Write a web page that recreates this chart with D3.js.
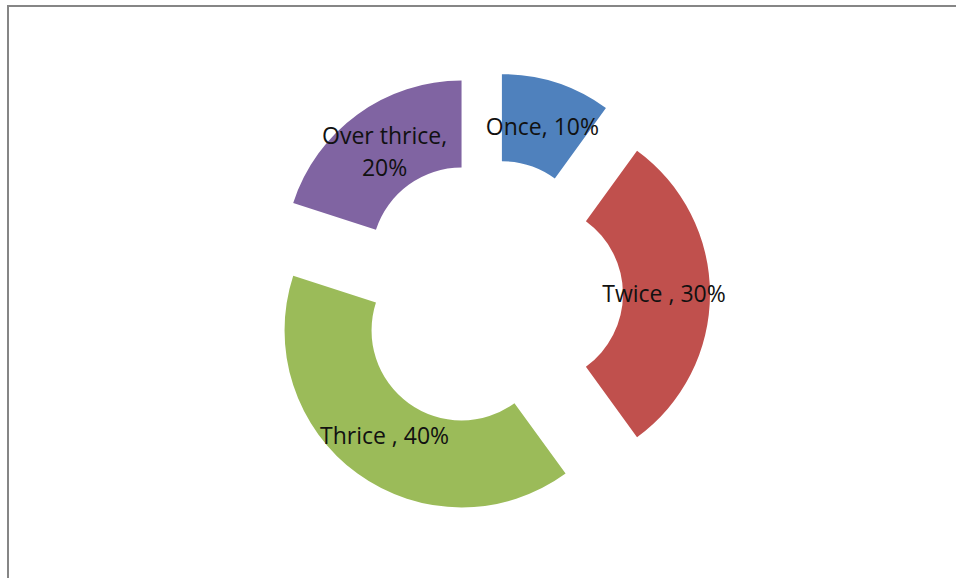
<!DOCTYPE html>
<html>
<head>
<meta charset="utf-8">
<script src="https://cdn.jsdelivr.net/npm/d3@7"></script>
<style>
  html, body { margin: 0; padding: 0; background: #fff; }
  svg { display: block; }
</style>
</head>
<body>
<script>
// Visit frequency shares
const categories = ["Once", "Twice ", "Thrice ", "Over thrice"];
const shares = [10, 30, 40, 20];
const colors = ["#4F81BD", "#C0504D", "#9BBB59", "#8064A2"];

const W = 956, H = 578;
const cx = 488, cy = 294;
const innerR = 90, outerR = 177;
const explode = 45;
const labelR = 131;

const svg = d3.select("body").append("svg")
  .attr("width", W).attr("height", H);

// chart area frame
svg.append("rect")
  .attr("x", 8).attr("y", 6)
  .attr("width", 980).attr("height", 620)
  .attr("fill", "#fff")
  .attr("stroke", "#868686")
  .attr("stroke-width", 2);

const pie = d3.pie().sort(null).value(d => d.v).startAngle(0).endAngle(2 * Math.PI);
const arc = d3.arc().innerRadius(innerR).outerRadius(outerR);
const labelArc = d3.arc().innerRadius(labelR).outerRadius(labelR);

const data = categories.map((c, i) => ({ name: c, v: shares[i], color: colors[i] }));
const arcs = pie(data);

const g = svg.append("g").attr("transform", `translate(${cx},${cy})`);

const slice = g.selectAll("g.slice").data(arcs).enter().append("g")
  .attr("class", "slice")
  .attr("transform", d => {
    const mid = (d.startAngle + d.endAngle) / 2;
    return `translate(${Math.sin(mid) * explode},${-Math.cos(mid) * explode})`;
  });

slice.append("path")
  .attr("d", arc)
  .attr("fill", d => d.data.color);

// data labels: "category, value%"; long ones wrap after the comma
const fontSize = 23, lineH = 32;
slice.each(function(d) {
  const [lx, ly] = labelArc.centroid(d);
  const lines = d.data.name.length > 8
    ? [d.data.name + ",", d.data.v + "%"]
    : [d.data.name + ", " + d.data.v + "%"];
  const t = d3.select(this).append("text")
    .attr("x", lx).attr("y", ly)
    .attr("text-anchor", "middle")
    .attr("font-family", "'Open Sans', 'Noto Sans', sans-serif")
    .attr("font-size", fontSize)
    .attr("fill", "#111");
  const y0 = -((lines.length - 1) * lineH) / 2;
  lines.forEach((ln, i) => {
    t.append("tspan")
      .attr("x", lx)
      .attr("y", ly + y0 + i * lineH)
      .attr("dy", "0.35em")
      .text(ln);
  });
});
</script>
</body>
</html>
